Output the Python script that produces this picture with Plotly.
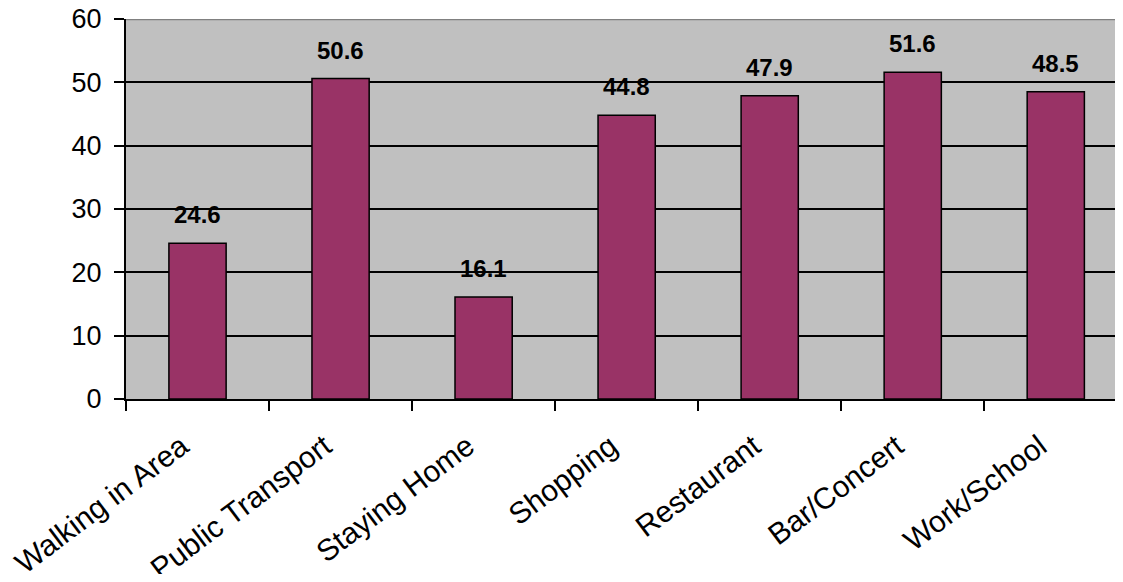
import plotly.graph_objects as go

categories = ["Walking in Area", "Public Transport", "Staying Home", "Shopping",
              "Restaurant", "Bar/Concert", "Work/School"]
values = [24.6, 50.6, 16.1, 44.8, 47.9, 51.6, 48.5]
y_ticks = [0, 10, 20, 30, 40, 50, 60]

fig = go.Figure()
fig.add_trace(go.Bar(
    x=categories, y=values, width=0.4,
    marker=dict(color="#993366", line=dict(color="black", width=1.5)),
    hoverinfo="skip",
))

for c, v in zip(categories, values):
    fig.add_annotation(x=c, y=v, text=f"<b>{v:.1f}</b>", showarrow=False,
                       yanchor="bottom", yshift=13,
                       font=dict(family="Arial, Liberation Sans", size=24, color="black"))

fig.add_shape(type="line", xref="paper", yref="y", x0=0, x1=1, y0=60, y1=60,
              line=dict(color="#808080", width=2.5))

fig.update_layout(
    width=1107, height=566,
    margin=dict(l=118, r=0, t=11, b=175, autoexpand=False),
    plot_bgcolor="#C0C0C0", paper_bgcolor="white",
    showlegend=False,
    font=dict(family="Arial, Liberation Sans", color="black"),
    bargap=0.6,
)
fig.update_xaxes(
    range=[-0.5, 6.414], tickangle=-37, tickson="boundaries",
    ticks="outside", ticklen=10, tickwidth=2, tickcolor="black",
    showline=True, linecolor="black", linewidth=2,
    tickfont=dict(size=30), showgrid=False, automargin=False,
    ticklabelstandoff=16, ticklabelshift=-16, ticklabeloverflow="allow",
)
fig.update_yaxes(
    range=[0, 60], tickvals=y_ticks,
    ticks="outside", ticklen=10, tickwidth=2, tickcolor="black",
    showline=True, linecolor="black", linewidth=2,
    showgrid=True, gridcolor="black", gridwidth=2, automargin=False,
    zeroline=False, tickfont=dict(size=27), ticklabelstandoff=7,
    ticklabeloverflow="allow",
)

fig.write_html("out.html")
